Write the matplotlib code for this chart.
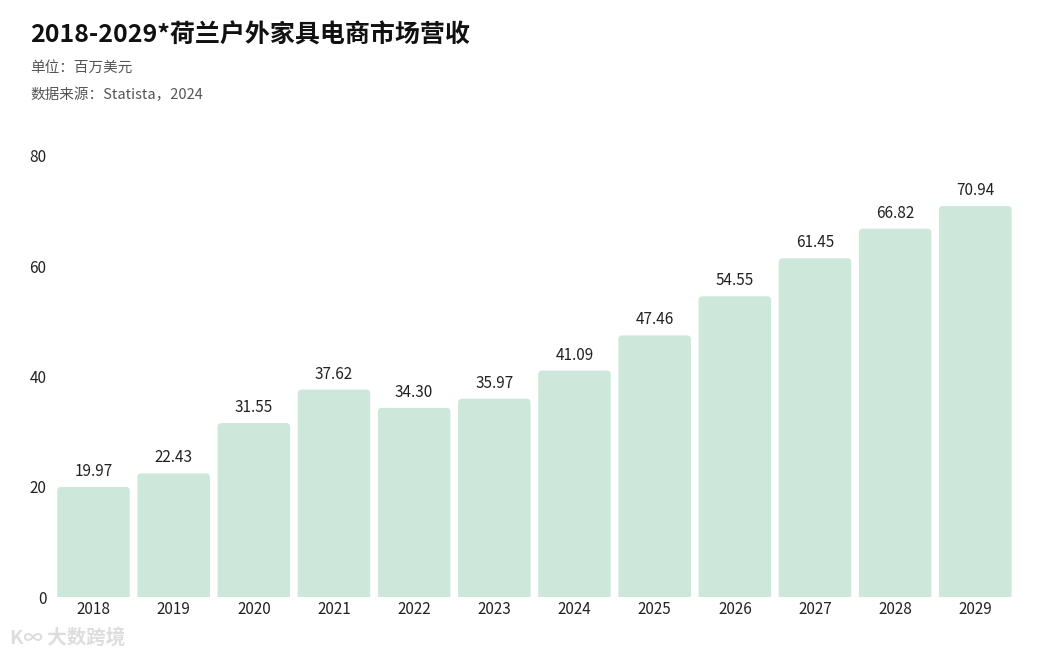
import matplotlib
matplotlib.use("Agg")
import matplotlib.pyplot as plt
from matplotlib.patches import FancyBboxPatch

plt.rcParams['font.family'] = ['Noto Sans CJK SC', 'DejaVu Sans']

years = ['2018', '2019', '2020', '2021', '2022', '2023',
         '2024', '2025', '2026', '2027', '2028', '2029']
revenue = [19.97, 22.43, 31.55, 37.62, 34.30, 35.97,
           41.09, 47.46, 54.55, 61.45, 66.82, 70.94]
yticks = [0, 20, 40, 60, 80]

bar_color = '#cde8db'

fig = plt.figure(figsize=(10.4, 6.59), dpi=100)
ax_w = 962
ax = fig.add_axes([53.4 / 1040, 62 / 659, ax_w / 1040, 441 / 659])

bars = ax.bar(range(len(years)), revenue, width=0.905, color=bar_color)

# replace plain bars with top-rounded ones (bottom corners hidden below y=0)
ax.set_xlim(-0.5, len(years) - 0.5)
ax.set_ylim(0, 80)
# data units per pixel for aspect correction
px_x = len(years) / ax_w
px_y = 80 / 441
r = 4 * px_x
for b in bars:
    x, w, h = b.get_x(), b.get_width(), b.get_height()
    b.set_visible(False)
    p = FancyBboxPatch((x, -2), w, h + 2,
                       boxstyle=f"round,pad=0,rounding_size={r}",
                       mutation_aspect=px_y / px_x,
                       facecolor=bar_color, edgecolor='none', clip_on=True)
    ax.add_patch(p)

for i, v in enumerate(revenue):
    ax.annotate(f'{v:.2f}', (i, v), textcoords='offset points', xytext=(0, 5),
                ha='center', va='bottom', fontsize=11, color='#222222')

ax.set_xticks(range(len(years)))
ax.set_xticklabels(years)
ax.set_yticks(yticks)
ax.tick_params(length=0, labelsize=11, colors='#222222', pad=3)
ax.tick_params(axis='y', pad=5)
for s in ax.spines.values():
    s.set_visible(False)

fig.text(30 / 1040, 1 - 35 / 659, '2018-2029*荷兰户外家具电商市场营收',
         fontsize=18, fontweight='bold', color='#111111', va='center', ha='left')
fig.text(30 / 1040, 1 - 68 / 659, '单位：百万美元',
         fontsize=10.5, color='#555555', va='center', ha='left')
fig.text(30 / 1040, 1 - 95 / 659, '数据来源：Statista，2024',
         fontsize=10.5, color='#555555', va='center', ha='left')
fig.text(10 / 1040, 1 - 638 / 659, 'K∞ 大数跨境',
         fontsize=14, color='#dddddd', va='center', ha='left', fontweight='bold')

fig.savefig('out.png', dpi=100)
